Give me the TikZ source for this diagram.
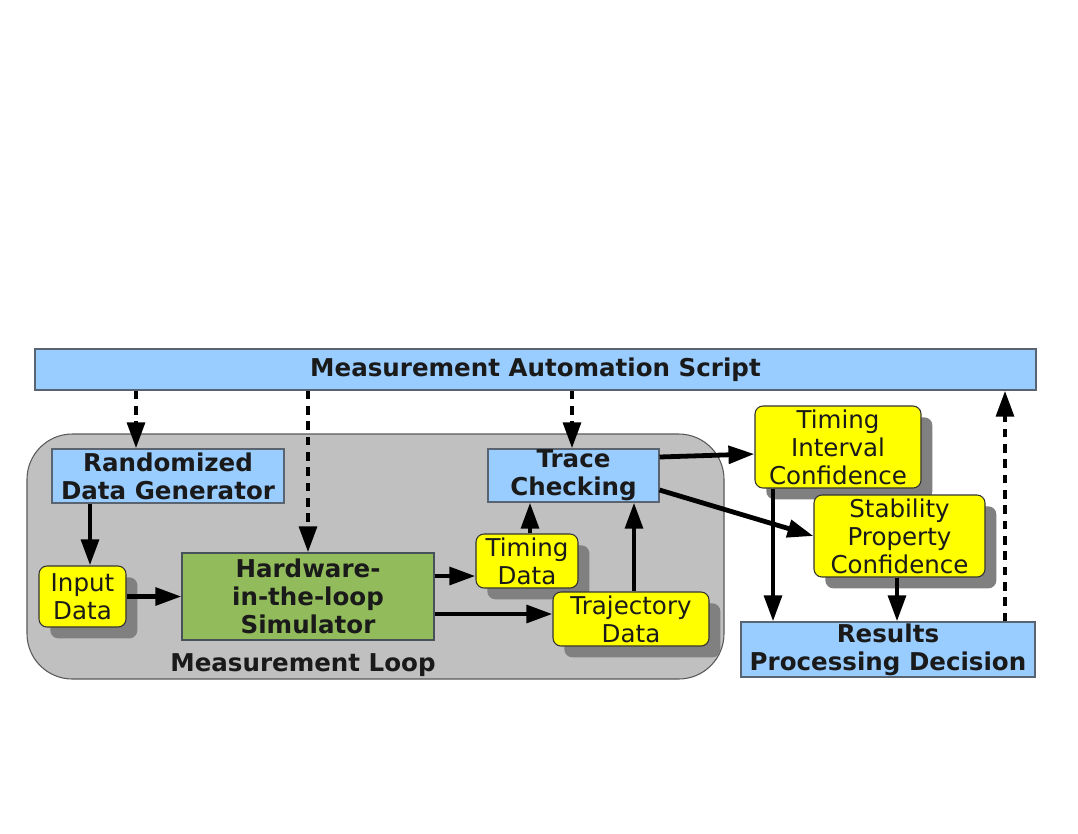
\documentclass[tikz,border=0pt]{standalone}
\usepackage{fontspec}
\setmainfont{DejaVu Sans}
\usetikzlibrary{arrows.meta,shadows,calc}
\definecolor{bluebox}{HTML}{99CCFF}
\definecolor{greenbox}{HTML}{92BC5C}
\definecolor{loopgray}{HTML}{C0C0C0}
\definecolor{shadowgray}{HTML}{808080}
\definecolor{txt}{HTML}{1A1A1A}
\definecolor{edgegray}{HTML}{5A6470}
\definecolor{yellowbox}{HTML}{FFFF00}
\begin{document}
\begin{tikzpicture}[x=0.75pt,y=-0.75pt,
  boxbase/.style={line width=0.8pt, text=txt, align=center, inner sep=0pt,
    font=\fontsize{18.4}{21}\selectfont},
  bluebox/.style={boxbase, draw=edgegray, fill=bluebox, font=\fontsize{18.4}{21}\selectfont\bfseries},
  greenbox/.style={boxbase, draw=edgegray!80!black, fill=greenbox, font=\fontsize{18.4}{21}\selectfont\bfseries},
  yellowbox/.style={boxbase, draw=black!80, fill=yellowbox, rounded corners=6pt,
    drop shadow={shadow xshift=8.5pt, shadow yshift=-8.5pt, fill=shadowgray, opacity=1}},
  loopbox/.style={draw=black!65, line width=0.8pt, fill=loopgray, rounded corners=34pt, inner sep=0pt},
  solidarrow/.style={line width=3.6pt, -{Triangle[length=19.5pt,width=13pt]}},
  dasharrow/.style={solidarrow, dash pattern=on 6.5pt off 5pt},
]
\useasboundingbox (0,0) rectangle (1078,833);

% measurement loop
\node[loopbox, minimum width=522.75pt, minimum height=183.75pt] (loop) at (375.5,556.5) {};
\node[font=\fontsize{18.4}{21}\selectfont\bfseries, text=txt, inner sep=0pt] (looplabel) at (303,665) {Measurement Loop};

% boxes
\node[bluebox, minimum width=750.75pt, minimum height=30.75pt] (top) at (535.5,369.5) {Measurement Automation Script};
\node[bluebox, minimum width=174pt, minimum height=40.5pt] (rnd) at (168,476) {Randomized\\Data Generator};
\node[yellowbox, minimum width=65.25pt, minimum height=45.75pt] (in) at (82.5,596.5) {Input\\Data};
\node[greenbox, minimum width=189pt, minimum height=65.25pt] (hw) at (308,596.5) {Hardware-\\in-the-loop\\Simulator};
\node[yellowbox, minimum width=76.5pt, minimum height=40.5pt] (td) at (527,561) {Timing\\Data};
\node[yellowbox, minimum width=117pt, minimum height=40.5pt] (traj) at (631,619) {Trajectory\\Data};
\node[bluebox, minimum width=128.25pt, minimum height=39.75pt] (tc) at (573.5,475.5) {Trace\\Checking};
\node[yellowbox, minimum width=124.5pt, minimum height=61.5pt] (tic) at (838,447) {Timing\\Interval\\Confidence};
\node[yellowbox, minimum width=128.25pt, minimum height=61.5pt] (spc) at (899.5,536) {Stability\\Property\\Confidence};
\node[bluebox, minimum width=220.5pt, minimum height=41.25pt] (res) at (888,649.5) {Results\\Processing Decision};

% x positions of vertical connectors
\coordinate (x1) at (136,0);
\coordinate (x2) at (308,0);
\coordinate (x3) at (572,0);
\coordinate (x4) at (1005,0);
\coordinate (x5) at (90,0);
\coordinate (x6) at (530,0);
\coordinate (x7) at (634,0);
\coordinate (x8) at (773,0);
\coordinate (x9) at (897,0);
\coordinate (y1) at (0,576);
\coordinate (y2) at (0,614);

% dashed control arrows
\draw[dasharrow] (x1 |- top.south) -- (x1 |- rnd.north);
\draw[dasharrow] (x2 |- top.south) -- (x2 |- hw.north);
\draw[dasharrow] (x3 |- top.south) -- (x3 |- tc.north);
\draw[dasharrow] (x4 |- res.north) -- (x4 |- top.south);

% data flow
\draw[solidarrow] (x5 |- rnd.south) -- (x5 |- in.north);
\draw[solidarrow] (in.east) -- (hw.west);
\draw[solidarrow] (hw.east |- y1) -- (td.west |- y1);
\draw[solidarrow] (hw.east |- y2) -- (traj.west |- y2);
\draw[solidarrow] (x6 |- td.north) -- (x6 |- tc.south);
\draw[solidarrow] (x7 |- traj.north) -- (x7 |- tc.south);
\draw[solidarrow] ($(tc.east)+(0,-18.5)$) -- ($(tic.west)+(0,7)$);
\draw[solidarrow] ($(tc.east)+(0,14.5)$) -- (spc.west);
\draw[solidarrow] (x8 |- tic.south) -- (x8 |- res.north);
\draw[solidarrow] (x9 |- spc.south) -- (x9 |- res.north);
\end{tikzpicture}
\end{document}
